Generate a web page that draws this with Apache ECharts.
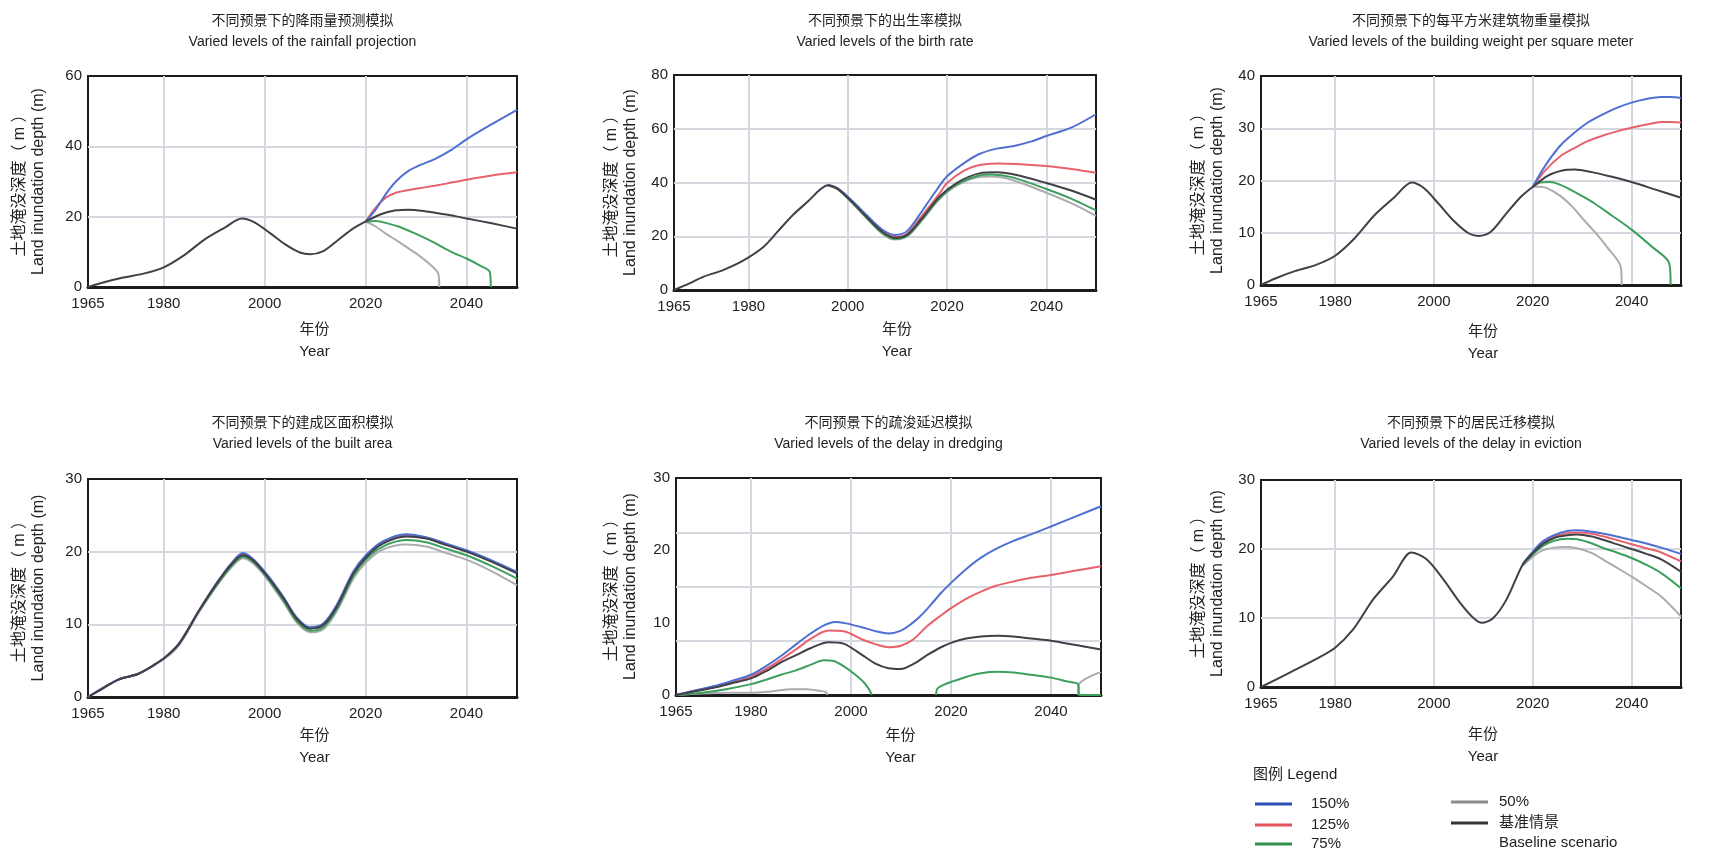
<!DOCTYPE html>
<html>
<head>
<meta charset="utf-8">
<script src="https://cdn.jsdelivr.net/npm/echarts@6/dist/echarts.min.js"></script>
<style>
html, body { margin: 0; padding: 0; background: #ffffff; }
#chart { width: 1729px; height: 853px; }
</style>
</head>
<body>
<div id="chart"></div>
<script>
// ---------- data: [year, land inundation depth (m)] ----------
const xTickLabels = [1965, 1980, 2000, 2020, 2040];
const xGridYears = [1980, 2000, 2020, 2040];
const scenarioNames = ['150%', '125%', '75%', '50%', '基准情景'];

// Rainfall projection
const rainBase = [[1965,0],[1968,1.3],[1972,2.7],[1976,3.8],[1980,5.6],[1984,9.0],[1988,13.4],[1992,16.8],[1995.5,19.5],[1998,18.4],[2001,15.4],[2004,12.2],[2007,9.8],[2009,9.3],[2011.5,10.1],[2014.5,13.3],[2017.5,16.6],[2020,18.6],[2023,20.7],[2026,21.8],[2028.5,22.0],[2032,21.5],[2036,20.6],[2040,19.5],[2045,18.1],[2050,16.6]];
const rain150 = [[2020,18.6],[2022,22.0],[2024,26.4],[2026,30.0],[2028.5,33.0],[2031,34.8],[2034,36.6],[2037,39.0],[2040,42.0],[2045,46.3],[2050,50.4]];
const rain125 = [[2020,18.6],[2022,22.6],[2024,25.4],[2026,26.8],[2028.5,27.6],[2032,28.4],[2036,29.4],[2040,30.5],[2045,31.7],[2050,32.6]];
const rain75 = [[2020,18.6],[2022,18.8],[2024,18.2],[2026.5,17.2],[2030,15.1],[2033.5,12.7],[2037,10.0],[2040,8.1],[2042.5,6.2],[2044.6,4.3],[2044.8,0]];
const rain50 = [[2020,18.6],[2022,17.2],[2024,15.2],[2026.5,12.9],[2029,10.5],[2031,8.5],[2033,6.1],[2034.4,3.8],[2034.6,0]];

// Birth rate
const birthBase = [[1965,0],[1968,2.4],[1971,5.0],[1975,7.5],[1979,11.0],[1983,16.0],[1986,22.0],[1989,28.0],[1992,33.0],[1994.5,37.5],[1996,39.0],[1998,37.6],[2001,32.5],[2004,26.8],[2007,21.6],[2009.5,19.4],[2012,20.6],[2015,26.8],[2018.5,34.8],[2022,39.9],[2026.5,43.4],[2030,43.8],[2034,42.8],[2040,39.8],[2045,37.0],[2050,33.6]];
const birth150 = [[1996,39.0],[1998,37.8],[2001,33.0],[2004,27.5],[2007,22.4],[2009.5,20.5],[2012,22.0],[2015,29.5],[2018,37.5],[2020,42.3],[2023.5,47.3],[2026.5,50.6],[2030,52.6],[2033.5,53.6],[2037,55.3],[2040,57.3],[2045,60.4],[2050,65.4]];
const birth125 = [[1996,39.0],[1998,37.7],[2001,32.7],[2004,27.1],[2007,21.9],[2009.5,19.7],[2012,21.0],[2015,27.8],[2018.5,36.0],[2020,39.8],[2023.5,44.5],[2026.5,46.5],[2030,47.1],[2034,46.9],[2040,46.1],[2045,45.0],[2050,43.6]];
const birth75 = [[1996,39.0],[1998,37.5],[2001,32.3],[2004,26.5],[2007,21.1],[2009.5,19.0],[2012,20.2],[2015,26.3],[2018.5,34.2],[2022,39.3],[2026.5,42.6],[2029,43.0],[2033,42.0],[2040,37.6],[2045,34.0],[2050,29.6]];
const birth50 = [[1996,39.0],[1998,37.4],[2001,32.2],[2004,26.3],[2007,20.9],[2009.5,18.8],[2012,20.0],[2015,26.0],[2018.5,33.8],[2022,38.9],[2026.5,42.0],[2029,42.2],[2033,41.0],[2040,36.2],[2045,32.3],[2050,27.6]];

// Building weight per square meter
const weightBase = [[1965,0],[1968,1.3],[1972,2.7],[1976,3.8],[1980,5.6],[1984,9.0],[1988,13.4],[1992,16.8],[1995.5,19.6],[1998,18.5],[2001,15.5],[2004,12.3],[2007,9.9],[2009,9.4],[2011.5,10.2],[2014.5,13.5],[2017.5,16.8],[2020,18.8],[2023,20.9],[2026,21.9],[2028.5,22.1],[2032,21.6],[2036,20.7],[2040,19.7],[2045,18.2],[2050,16.7]];
const weight150 = [[2020,18.8],[2022.5,22.8],[2025.5,26.6],[2028,28.8],[2031,31.0],[2034.5,32.8],[2037,33.9],[2040,34.9],[2043,35.6],[2046,36.0],[2048,36.0],[2050,35.8]];
const weight125 = [[2020,18.8],[2022.5,21.9],[2025.5,24.6],[2028,26.0],[2031,27.5],[2034.5,28.7],[2037,29.4],[2040,30.1],[2043,30.7],[2046,31.2],[2048,31.2],[2050,31.1]];
const weight75 = [[2020,18.8],[2021.5,19.6],[2023.5,19.7],[2025.5,19.2],[2027.5,18.3],[2030,17.0],[2032.5,15.6],[2036,13.3],[2040,10.6],[2044,7.4],[2047.6,4.2],[2047.9,0]];
const weight50 = [[2020,18.8],[2021.5,18.8],[2023,18.5],[2025.5,17.1],[2028,15.0],[2030,12.8],[2032.5,10.2],[2035,7.3],[2037.8,3.5],[2038,0]];

// Built area
const areaBase = [[1965,0],[1968,1.2],[1971,2.4],[1975,3.2],[1978,4.4],[1980,5.3],[1983,7.3],[1987,11.9],[1990.5,15.6],[1993.5,18.3],[1995.7,19.5],[1997.7,18.8],[2000.3,16.8],[2003.7,13.6],[2006.3,10.8],[2009,9.4],[2011.6,9.9],[2014.3,12.4],[2017.6,17.0],[2020.2,19.3],[2023.4,21.1],[2028,22.1],[2032,21.8],[2036,20.9],[2040,20.0],[2045,18.6],[2050,17.0]];
const area150 = [[1965,0],[1971,2.4],[1975,3.2],[1980,5.3],[1983,7.3],[1987,11.9],[1990.5,15.7],[1993.5,18.5],[1995.7,19.8],[1997.7,19.0],[2000.3,17.0],[2003.7,13.8],[2006.3,11.0],[2009,9.6],[2011.6,10.1],[2014.3,12.7],[2017.6,17.3],[2020.2,19.6],[2023.4,21.4],[2028,22.4],[2032,22.0],[2036,21.1],[2040,20.2],[2045,18.8],[2050,17.2]];
const area125 = [[1965,0],[1971,2.4],[1975,3.2],[1980,5.3],[1983,7.3],[1987,11.9],[1990.5,15.6],[1993.5,18.4],[1995.7,19.7],[1997.7,18.9],[2000.3,16.9],[2003.7,13.7],[2006.3,10.9],[2009,9.5],[2011.6,10.0],[2014.3,12.6],[2017.6,17.2],[2020.2,19.5],[2023.4,21.3],[2028,22.3],[2032,21.9],[2036,21.0],[2040,20.1],[2045,18.7],[2050,17.1]];
const area75 = [[1965,0],[1971,2.4],[1975,3.2],[1980,5.3],[1983,7.2],[1987,11.8],[1990.5,15.4],[1993.5,18.1],[1995.7,19.3],[1997.7,18.6],[2000.3,16.6],[2003.7,13.3],[2006.3,10.5],[2009,9.1],[2011.6,9.6],[2014.3,12.1],[2017.6,16.7],[2020.2,19.0],[2023.4,20.7],[2028,21.6],[2032,21.3],[2036,20.4],[2040,19.5],[2045,18.0],[2050,16.3]];
const area50 = [[1965,0],[1971,2.4],[1975,3.2],[1980,5.2],[1983,7.1],[1987,11.7],[1990.5,15.3],[1993.5,17.9],[1995.7,19.1],[1997.7,18.4],[2000.3,16.4],[2003.7,13.1],[2006.3,10.3],[2009,8.9],[2011.6,9.3],[2014.3,11.8],[2017.6,16.3],[2020.2,18.6],[2023.4,20.3],[2028,21.0],[2032,20.7],[2036,19.8],[2040,18.9],[2045,17.3],[2050,15.4]];

// Delay in dredging
const dredgeBase = [[1965,0],[1968,0.4],[1972.5,1.0],[1976,1.6],[1980,2.3],[1983,3.3],[1986,4.5],[1989,5.5],[1992,6.5],[1995.5,7.3],[1998.5,7.1],[2002.5,5.4],[2005,4.3],[2007.5,3.7],[2010,3.6],[2012.5,4.3],[2015.2,5.5],[2018,6.6],[2020,7.2],[2023,7.8],[2026,8.1],[2029.3,8.2],[2032.5,8.1],[2036,7.8],[2040,7.5],[2045,6.9],[2050,6.3]];
const dredge150 = [[1965,0],[1968,0.5],[1972.5,1.2],[1976,1.9],[1980,2.8],[1983,4.0],[1986,5.4],[1989,7.0],[1991.5,8.3],[1994.5,9.6],[1996.8,10.1],[1999,9.9],[2002,9.4],[2005,8.8],[2007.5,8.5],[2010,8.9],[2012,9.8],[2014,11.0],[2016,12.5],[2018,14.1],[2020,15.5],[2023,17.4],[2026,19.0],[2029,20.2],[2032.5,21.3],[2036,22.2],[2040,23.3],[2045,24.7],[2050,26.1]];
const dredge125 = [[1965,0],[1968,0.5],[1972.5,1.1],[1976,1.7],[1980,2.5],[1983,3.6],[1986,4.9],[1989,6.3],[1992,7.8],[1995.5,8.9],[1998.5,8.8],[2002.5,7.6],[2005,7.0],[2007.5,6.6],[2010,6.8],[2012.5,7.7],[2015.2,9.5],[2018,11.0],[2020,12.0],[2023,13.3],[2026,14.3],[2029,15.1],[2032.5,15.7],[2036,16.2],[2040,16.6],[2045,17.2],[2050,17.8]];
const dredge75 = [[1965,0],[1970,0.3],[1975,0.8],[1980,1.5],[1983,2.1],[1986,2.8],[1989,3.4],[1992,4.2],[1994.5,4.8],[1996.5,4.7],[1998.5,4.0],[2000.5,3.0],[2002.5,1.8],[2003.5,0.9],[2004.2,0],[2010,'-'],[2017,0],[2017.3,0.9],[2018.5,1.4],[2020,1.8],[2023,2.5],[2026,3.0],[2029.3,3.2],[2032.5,3.1],[2036,2.8],[2040,2.4],[2043,1.9],[2045.4,1.5],[2045.7,0],[2050,0]];
const dredge50 = [[1965,0],[1970,0.2],[1975,0.3],[1980,0.3],[1984,0.5],[1988,0.8],[1991,0.8],[1993.5,0.6],[1995,0.4],[1995.3,0],[2020,'-'],[2045.4,0],[2045.6,1.5],[2050,3.2]];

// Delay in eviction
const evictBase = [[1965,0],[1971.4,2.3],[1976,4.0],[1980,5.7],[1983.6,8.3],[1987.7,12.7],[1991.7,16.0],[1995.4,19.5],[1998.5,18.5],[2001.9,15.6],[2005.3,12.2],[2008,10.0],[2009.7,9.3],[2012,10.0],[2014.7,12.7],[2018,17.8],[2020,19.4],[2022,20.7],[2024.3,21.6],[2027,22.0],[2029,22.1],[2032,21.8],[2034.4,21.3],[2037,20.7],[2040,20.0],[2043,19.3],[2046,18.5],[2050,16.7]];
const evict150 = [[2018,17.8],[2020,19.6],[2022,21.1],[2024.3,22.0],[2027,22.6],[2029,22.7],[2032,22.5],[2034.4,22.2],[2037,21.8],[2040,21.3],[2043,20.8],[2046,20.2],[2050,19.3]];
const evict125 = [[2018,17.8],[2020,19.5],[2022,20.9],[2024.3,21.8],[2027,22.3],[2029,22.4],[2032,22.2],[2034.4,21.8],[2037,21.3],[2040,20.7],[2043,20.1],[2046,19.5],[2050,18.2]];
const evict75 = [[2018,17.7],[2020,19.2],[2022,20.4],[2024.3,21.2],[2027,21.5],[2029,21.4],[2032,20.8],[2034.4,20.1],[2037,19.5],[2040,18.7],[2043,17.7],[2046,16.5],[2050,14.3]];
const evict50 = [[2018,17.6],[2020,18.9],[2022,19.8],[2024.3,20.2],[2026.5,20.3],[2029,20.1],[2032,19.4],[2034.4,18.4],[2037,17.3],[2040,16.0],[2043,14.6],[2046,13.1],[2050,10.2]];

// ---------- styling and layout ----------
const FONT = "'Liberation Sans', Arial, 'Noto Sans CJK SC', sans-serif";
const lineColors = { '150%': '#4f70d2', '125%': '#e8626d', '75%': '#3c9f5d', '50%': '#acacb0', '基准情景': '#404046' };
const legendColors = { '150%': '#2b50b6', '125%': '#e4525c', '75%': '#2f9049', '50%': '#8c8c8e', '基准情景': '#333338' };
const drawOrder = ['50%', '75%', '125%', '150%', '基准情景'];

const panels = [
  { title: '不同预景下的降雨量预测模拟\nVaried levels of the rainfall projection', left: 88, top: 76, width: 429, height: 211, yMax: 60, yStep: 20, titleTop: 11, xGap: 32, yGap: 40,
    lines: { '150%': rain150, '125%': rain125, '75%': rain75, '50%': rain50, '基准情景': rainBase } },
  { title: '不同预景下的出生率模拟\nVaried levels of the birth rate', left: 674, top: 75, width: 422, height: 215, yMax: 80, yStep: 20, titleTop: 11, xGap: 29, yGap: 34,
    lines: { '150%': birth150, '125%': birth125, '75%': birth75, '50%': birth50, '基准情景': birthBase } },
  { title: '不同预景下的每平方米建筑物重量模拟\nVaried levels of the building weight per square meter', left: 1261, top: 76, width: 420, height: 209, yMax: 40, yStep: 10, titleTop: 11, xGap: 36, yGap: 34,
    lines: { '150%': weight150, '125%': weight125, '75%': weight75, '50%': weight50, '基准情景': weightBase } },
  { title: '不同预景下的建成区面积模拟\nVaried levels of the built area', left: 88, top: 479, width: 429, height: 218, yMax: 30, yStep: 10, titleTop: 413, xGap: 28, yGap: 40,
    lines: { '150%': area150, '125%': area125, '75%': area75, '50%': area50, '基准情景': areaBase } },
  { title: '不同预景下的疏浚延迟模拟\nVaried levels of the delay in dredging', left: 676, top: 478, width: 425, height: 217, yMax: 30, yStep: 10, gridStep: 7.5, titleTop: 413, xGap: 30, yGap: 36,
    lines: { '150%': dredge150, '125%': dredge125, '75%': dredge75, '50%': dredge50, '基准情景': dredgeBase } },
  { title: '不同预景下的居民迁移模拟\nVaried levels of the delay in eviction', left: 1261, top: 480, width: 420, height: 207, yMax: 30, yStep: 10, titleTop: 413, xGap: 37, yGap: 34,
    lines: { '150%': evict150, '125%': evict125, '75%': evict75, '50%': evict50, '基准情景': evictBase } }
];

// legend entries: name, icon left edge, item top, gap from icon to text
const legendItems = [
  { name: '150%', left: 1255, top: 795, textGap: 14 },
  { name: '125%', left: 1255, top: 816, textGap: 14 },
  { name: '75%', left: 1255, top: 835, textGap: 14 },
  { name: '50%', left: 1451, top: 793, textGap: 6 },
  { name: '基准情景', left: 1451, top: 814, textGap: 6 }
];

const gridLineStyle = { color: '#d5d8de', width: 2 };
const option = {
  animation: false,
  backgroundColor: '#ffffff',
  textStyle: { fontFamily: FONT },
  title: [], grid: [], xAxis: [], yAxis: [], series: [],
  legend: legendItems.map(it => ({
    orient: 'vertical', left: it.left, top: it.top, padding: 0,
    itemWidth: 37, itemHeight: 3, icon: 'rect', selectedMode: false,
    textStyle: { fontFamily: FONT, fontSize: 15, color: '#222', lineHeight: 18, padding: [0, 0, 0, it.textGap] },
    data: [{ name: it.name, itemStyle: { color: legendColors[it.name] } }]
  })),
  graphic: [
    { type: 'text', left: 1253, top: 767, style: { text: '图例 Legend', font: '15px ' + FONT, fill: '#222' } },
    { type: 'text', left: 1499, top: 835, style: { text: 'Baseline scenario', font: '15px ' + FONT, fill: '#222' } }
  ]
};

panels.forEach((p, i) => {
  option.title.push({
    text: p.title, left: p.left + p.width / 2, top: p.titleTop, textAlign: 'center', padding: 0,
    textStyle: { fontFamily: FONT, fontSize: 14, fontWeight: 'normal', color: '#222', lineHeight: 21 }
  });
  option.grid.push({
    left: p.left, top: p.top, width: p.width, height: p.height,
    show: true, borderColor: '#1c1c1c', borderWidth: 2, backgroundColor: 'transparent'
  });
  option.xAxis.push({
    type: 'value', gridIndex: i, min: 1965, max: 2050,
    name: '年份\nYear', nameLocation: 'middle', nameGap: p.xGap,
    nameTextStyle: { fontFamily: FONT, fontSize: 15, color: '#222', lineHeight: 22, padding: [0, 0, 0, 24] },
    axisLine: { show: true, lineStyle: { color: '#1c1c1c', width: 3 } },
    axisTick: { show: false, customValues: xGridYears },
    axisLabel: { customValues: xTickLabels, formatter: v => String(v), fontFamily: FONT, fontSize: 15, color: '#222', margin: 9 },
    splitLine: { show: true, lineStyle: gridLineStyle }
  });
  const yIndex = option.yAxis.length;
  option.yAxis.push({
    type: 'value', gridIndex: i, min: 0, max: p.yMax, interval: p.yStep,
    name: '土地淹没深度（ m ）\nLand inundation depth (m)', nameLocation: 'middle', nameRotate: 90, nameGap: p.yGap,
    nameTextStyle: { fontFamily: FONT, fontSize: 16, color: '#222', lineHeight: 19 },
    axisLine: { show: false }, axisTick: { show: false },
    axisLabel: { fontFamily: FONT, fontSize: 15, color: '#222', margin: 6 },
    splitLine: { show: !p.gridStep, lineStyle: gridLineStyle, showMinLine: false, showMaxLine: false }
  });
  if (p.gridStep) {
    option.yAxis.push({
      type: 'value', gridIndex: i, min: 0, max: p.yMax, interval: p.gridStep,
      axisLine: { show: false }, axisTick: { show: false }, axisLabel: { show: false },
      splitLine: { show: true, lineStyle: gridLineStyle, showMinLine: false, showMaxLine: false }
    });
  }
  drawOrder.forEach(name => {
    option.series.push({
      type: 'line', name: name, xAxisIndex: i, yAxisIndex: yIndex,
      data: p.lines[name], symbol: 'none', showSymbol: false,
      smooth: 0.3, connectNulls: false,
      lineStyle: { width: 2, color: lineColors[name] },
      itemStyle: { color: lineColors[name] },
      emphasis: { disabled: true }
    });
  });
});

const chart = echarts.init(document.getElementById('chart'), null, { renderer: 'canvas' });
chart.setOption(option);
</script>
</body>
</html>
